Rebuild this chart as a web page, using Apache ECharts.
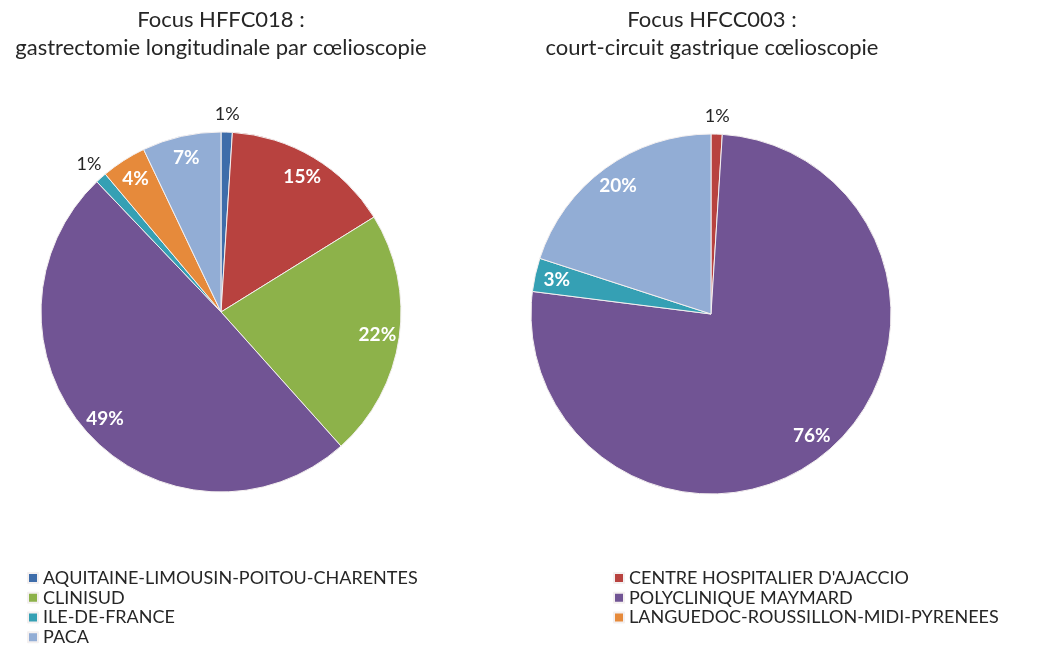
<!DOCTYPE html>
<html>
<head>
<meta charset="utf-8">
<script src="https://cdn.jsdelivr.net/npm/echarts@6/dist/echarts.min.js"></script>
<style>
html,body{margin:0;padding:0;background:#fff;}
#main{width:1042px;height:663px;}
</style>
</head>
<body>
<div id="main"></div>
<script>
// ---- data ----
const names = [
  "AQUITAINE-LIMOUSIN-POITOU-CHARENTES",
  "CENTRE HOSPITALIER D'AJACCIO",
  "CLINISUD",
  "POLYCLINIQUE MAYMARD",
  "ILE-DE-FRANCE",
  "LANGUEDOC-ROUSSILLON-MIDI-PYRENEES",
  "PACA"
];
const colors = ["#3e6daa", "#b8423f", "#8db24a", "#715494", "#35a0b4", "#e68a3b", "#92add5"];
// Left pie: HFFC018 (order clockwise from top)
const leftNames = ["AQUITAINE-LIMOUSIN-POITOU-CHARENTES", "CENTRE HOSPITALIER D'AJACCIO", "CLINISUD", "POLYCLINIQUE MAYMARD", "ILE-DE-FRANCE", "LANGUEDOC-ROUSSILLON-MIDI-PYRENEES", "PACA"];
const leftValues = [1, 15, 22, 49, 1, 4, 7];
// Right pie: HFCC003
const rightNames = ["CENTRE HOSPITALIER D'AJACCIO", "POLYCLINIQUE MAYMARD", "ILE-DE-FRANCE", "PACA"];
const rightValues = [1, 76, 3, 20];
const titles = ["Focus HFFC018 :\ngastrectomie longitudinale par cœlioscopie", "Focus HFCC003 :\ncourt-circuit gastrique cœlioscopie"];
const legendLeft = ["AQUITAINE-LIMOUSIN-POITOU-CHARENTES", "CLINISUD", "ILE-DE-FRANCE", "PACA"];
const legendRight = ["CENTRE HOSPITALIER D'AJACCIO", "POLYCLINIQUE MAYMARD", "LANGUEDOC-ROUSSILLON-MIDI-PYRENEES"];

const FONT = "Lato, 'Open Sans', sans-serif";
const TEXT = '#262626';
const colorOf = n => colors[names.indexOf(n)];

function pieSeries(ns, vs, center) {
  const main = {
    type: 'pie', center: center, radius: [0, 180], startAngle: 90, clockwise: true,
    label: { show: false }, labelLine: { show: false },
    itemStyle: { borderColor: '#f4f0f0', borderWidth: 1 },
    emphasis: { scale: false },
    data: ns.map((n, i) => ({ name: n, value: vs[i], itemStyle: { color: colorOf(n) } }))
  };
  const inner = {
    type: 'pie', center: center, radius: [130, 180], startAngle: 90, clockwise: true,
    silent: true, legendHoverLink: false, labelLine: { show: false },
    itemStyle: { color: 'rgba(0,0,0,0)', borderWidth: 0 },
    label: { show: true, position: 'inside', formatter: '{c}%', color: '#fff', fontWeight: 'bold', fontSize: 19, fontFamily: FONT },
    data: ns.map((n, i) => ({ name: n, value: vs[i], label: { show: vs[i] >= 2 } }))
  };
  const outer = {
    type: 'pie', center: center, radius: [188, 202], startAngle: 90, clockwise: true,
    silent: true, legendHoverLink: false, labelLine: { show: false },
    itemStyle: { color: 'rgba(0,0,0,0)', borderWidth: 0 },
    label: { show: true, position: 'inside', formatter: '{c}%', color: TEXT, fontSize: 18, fontFamily: FONT },
    data: ns.map((n, i) => ({ name: n, value: vs[i], label: { show: vs[i] < 2 } }))
  };
  return [main, inner, outer];
}

const legendBase = {
  orient: 'vertical', top: 568, itemWidth: 10, itemHeight: 10, itemGap: 0, padding: 0,
  icon: 'rect', selectedMode: false,
  textStyle: { fontSize: 18, color: TEXT, fontFamily: FONT, lineHeight: 19.8 }
};
const titleStyle = { fontSize: 22, fontWeight: 'normal', color: TEXT, fontFamily: FONT, lineHeight: 28 };

const chart = echarts.init(document.getElementById('main'), null, { renderer: 'canvas' });
chart.setOption({
  backgroundColor: '#fff',
  animation: false,
  title: [
    { text: titles[0], left: 221, top: 6, padding: 0, textAlign: 'center', textStyle: titleStyle },
    { text: titles[1], left: 712, top: 6, padding: 0, textAlign: 'center', textStyle: titleStyle }
  ],
  legend: [
    Object.assign({}, legendBase, { left: 27, data: legendLeft }),
    Object.assign({}, legendBase, { left: 613, data: legendRight })
  ],
  series: [].concat(pieSeries(leftNames, leftValues, [221, 312]), pieSeries(rightNames, rightValues, [711, 314]))
});
</script>
</body>
</html>
